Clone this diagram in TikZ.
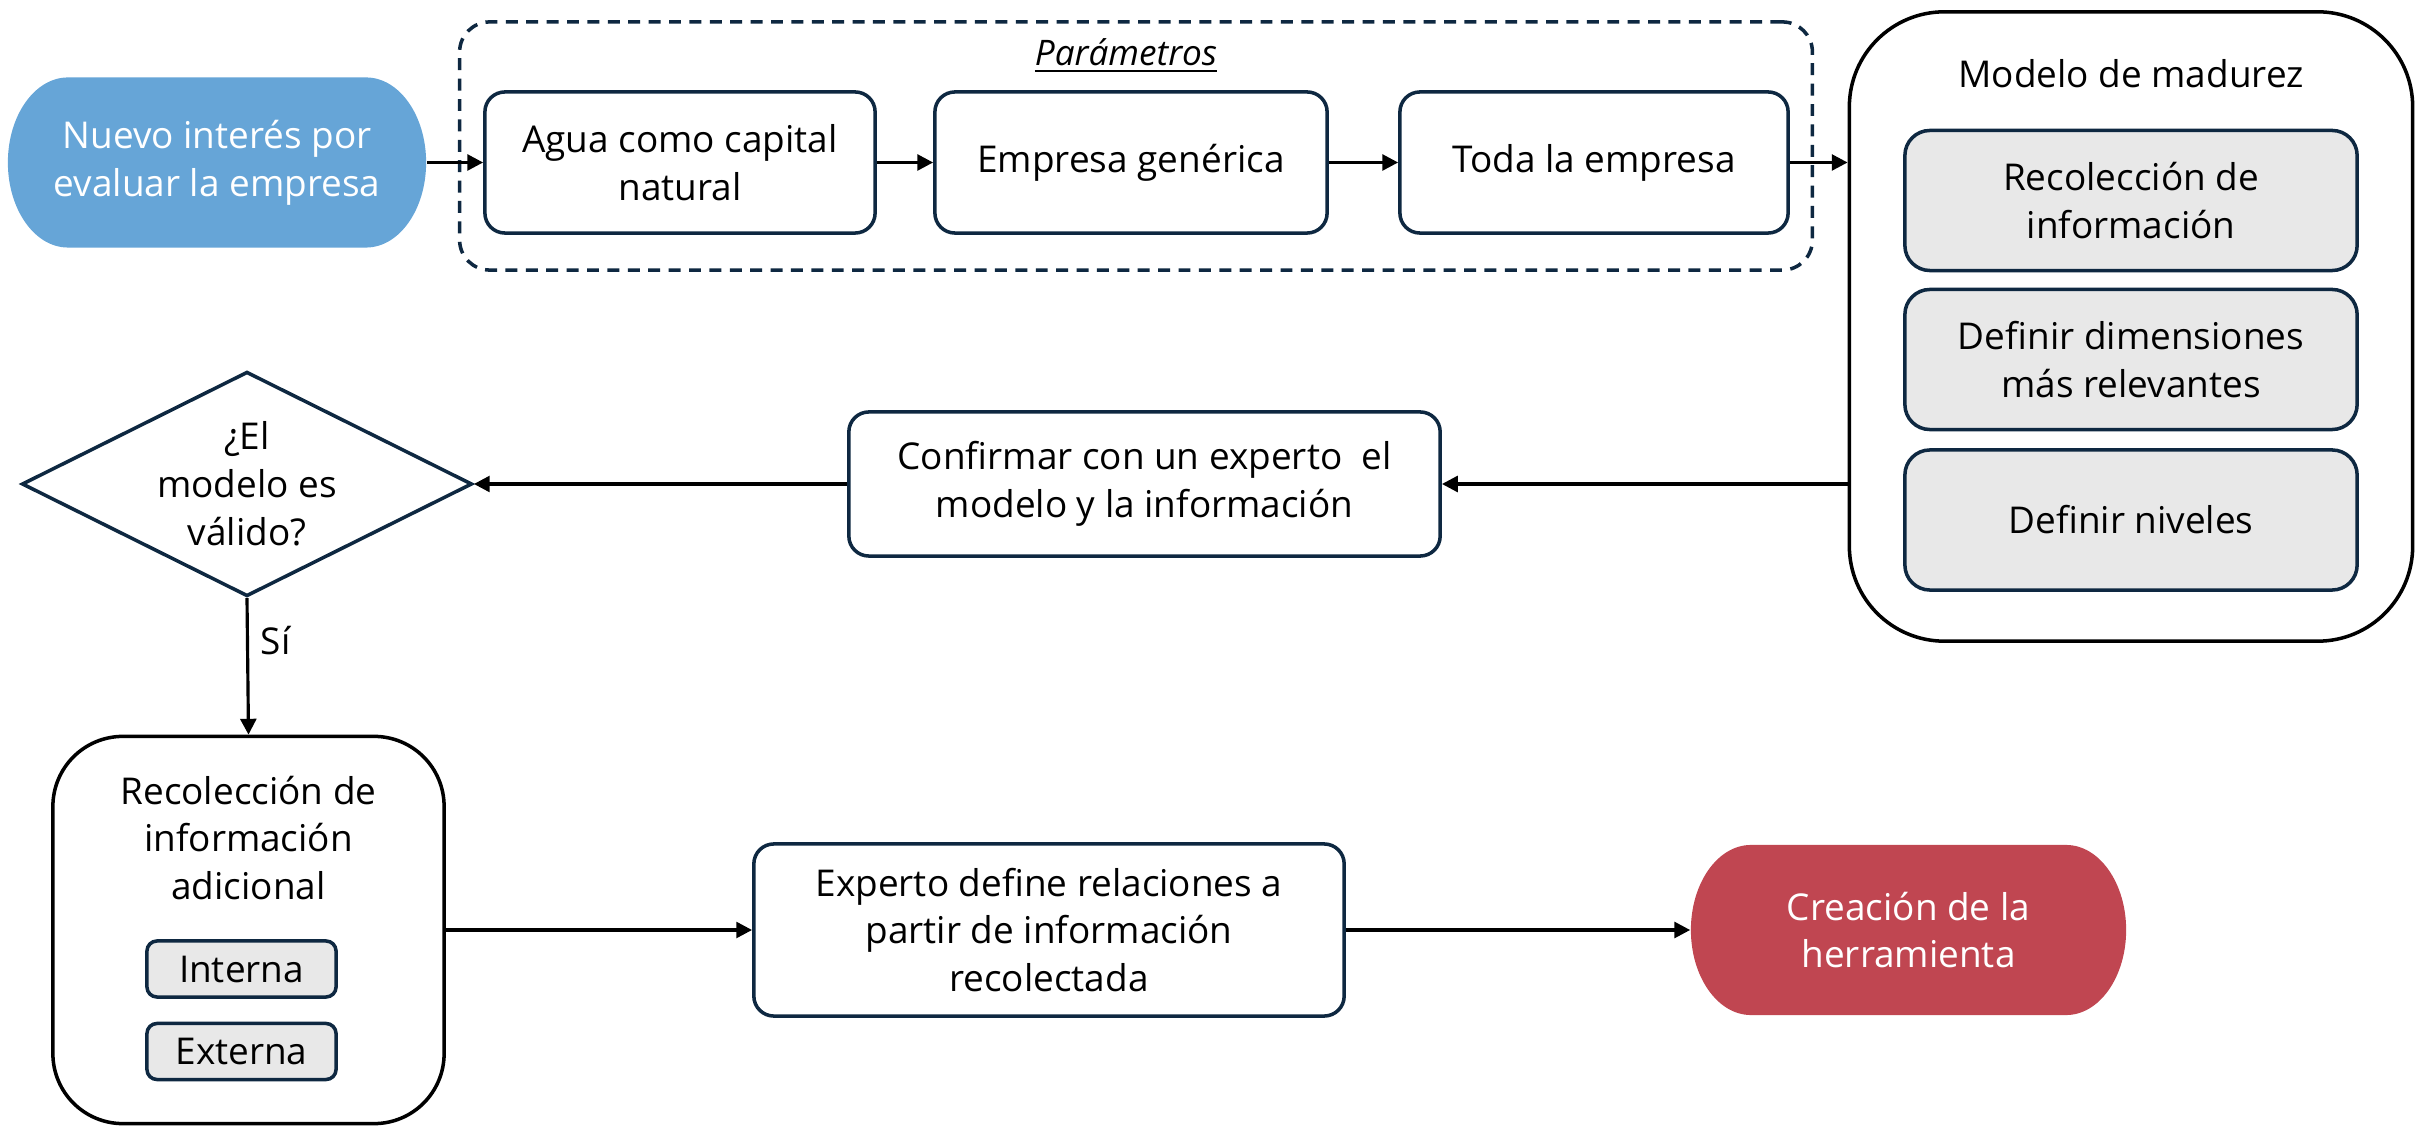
\documentclass[tikz,border=0pt]{standalone}
\usepackage{fontspec}
\setmainfont{Open Sans}
\usetikzlibrary{arrows.meta,shapes.geometric}
\definecolor{NavyClr}{HTML}{0E2841}
\definecolor{BlueClr}{HTML}{66A5D7}
\definecolor{RedClr}{HTML}{C04651}
\definecolor{GrayClr}{HTML}{E8E8E8}

\tikzset{
  box/.style={draw=NavyClr, line width=1pt, rounded corners=0.2cm, align=center, inner sep=0pt},
  subbox/.style={box, fill=GrayClr, rounded corners=0.25cm, minimum width=4.52cm, minimum height=1.4cm},
  tinybox/.style={box, fill=GrayClr, rounded corners=0.1cm, minimum width=1.89cm, minimum height=0.56cm},
  holder/.style={draw=black, line width=1pt, inner sep=0pt},
  terminal/.style={align=center, text=white, inner sep=0pt, minimum height=1.7cm,
    path picture={
      \fill[#1] ([xshift=0.6cm]path picture bounding box.north west)
        -- ([xshift=-0.6cm]path picture bounding box.north east)
        arc[start angle=90, end angle=-90, x radius=0.6cm, y radius=0.85cm]
        -- ([xshift=0.6cm]path picture bounding box.south west)
        arc[start angle=270, end angle=90, x radius=0.6cm, y radius=0.85cm] -- cycle;}},
  flow/.style={-{Triangle[length=4.5pt,width=4.5pt]}, line width=0.9pt}
}

\begin{document}
\begin{tikzpicture}[x=0.01cm, y=0.01cm, font=\fontsize{10.5pt}{13.6pt}\selectfont]
\useasboundingbox (0,0) rectangle (2428,1136);

% top row
\node[terminal=BlueClr, minimum width=4.18cm] (start) at (217,973.5) {Nuevo interés por\\evaluar la empresa};
\node[draw=NavyClr, line width=1pt, dash pattern=on 3.4pt off 2.4pt, rounded corners=0.3cm,
      minimum width=13.52cm, minimum height=2.48cm] (params) at (1136,990) {};
\node[font=\fontsize{10pt}{12pt}\itshape] (paramtitle) at (1126,1080) {\underline{Parámetros}};
\node[box, minimum width=3.9cm, minimum height=1.41cm] (agua) at (680,973.5) {Agua como capital\\natural};
\node[box, minimum width=3.92cm, minimum height=1.41cm] (generica) at (1131,973.5) {Empresa genérica};
\node[box, minimum width=3.88cm, minimum height=1.41cm] (toda) at (1594,973.5) {Toda la empresa};

% maturity model
\node[holder, rounded corners=0.95cm, minimum width=5.63cm, minimum height=6.29cm] (modelo) at (2131,809.5) {};
\node (modtitle) at (2131,1062) {Modelo de madurez};
\node[subbox] (recinfo) at (2131,935.5) {Recolección de\\información};
\node[subbox] (dimens) at (2131,776.5) {Definir dimensiones\\más relevantes};
\node[subbox] (niveles) at (2131,616) {Definir niveles};

% middle row
\node[box, minimum width=5.91cm, minimum height=1.44cm] (confirmar) at (1144.5,652) {Confirmar con un experto~ el\\modelo y la información};
\node[diamond, draw=NavyClr, line width=1pt, aspect=2, inner sep=1pt, align=center,
      minimum width=4.5cm, minimum height=2.12cm] (valido) at (247,652) {¿El\\modelo es\\válido?};

% bottom row
\node[holder, rounded corners=0.7cm, minimum width=3.91cm, minimum height=3.87cm] (adicional) at (248.5,206) {};
\node[align=center] (adictitle) at (248.5,298) {Recolección de\\información\\adicional};
\node[tinybox] (interna) at (241.5,167) {Interna};
\node[tinybox] (externa) at (241.5,84.5) {Externa};
\node[box, minimum width=5.9cm, minimum height=1.72cm] (experto) at (1049,206) {Experto define relaciones a\\partir de información\\recolectada};
\node[terminal=RedClr, minimum width=4.35cm] (creacion) at (1908.5,206) {Creación de la\\herramienta};

% connectors
\draw[flow] (start) -- (agua);
\draw[flow] (agua) -- (generica);
\draw[flow] (generica) -- (toda);
\draw[flow] (toda.east) -- (toda.east -| modelo.west);
\draw[flow] (confirmar.east -| modelo.west) -- (confirmar.east);
\draw[flow] (confirmar) -- (valido);
\draw[flow] (valido.south) -- node[right, pos=0.31] {Sí} (adicional.north);
\draw[flow] (adicional) -- (experto);
\draw[flow] (experto) -- (creacion);

\end{tikzpicture}
\end{document}
